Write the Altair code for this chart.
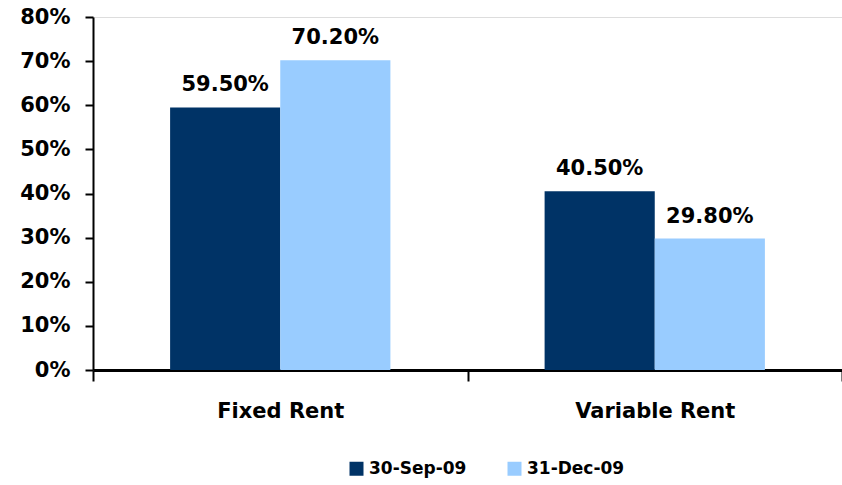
import altair as alt
import pandas as pd

# Rent mix by type, two reporting dates
categories = ["Fixed Rent", "Variable Rent"]
series = ["30-Sep-09", "31-Dec-09"]
sep_09 = [0.595, 0.405]
dec_09 = [0.702, 0.298]
colors = ["#003366", "#99CCFF"]
y_ticks = [0, 0.1, 0.2, 0.3, 0.4, 0.5, 0.6, 0.7, 0.8]

rows = []
for s, vals in zip(series, [sep_09, dec_09]):
    for c, v in zip(categories, vals):
        rows.append({"category": c, "series": s, "value": v})
df = pd.DataFrame(rows)

FONT = "DejaVu Sans"

x_enc = alt.X(
    "category:N",
    sort=categories,
    title=None,
    scale=alt.Scale(paddingInner=0, paddingOuter=0),
    axis=alt.Axis(
        labelAngle=0,
        labelFont=FONT,
        labelFontWeight="bold",
        labelFontSize=21,
        labelColor="black",
        labelPadding=19,
        domainColor="black",
        domainWidth=3,
        tickColor="black",
        tickWidth=2,
        tickSize=11,
        tickBand="extent",
    ),
)
xoff_enc = alt.XOffset(
    "series:N",
    sort=series,
    scale=alt.Scale(paddingInner=0, paddingOuter=0.7),
)
y_enc = alt.Y(
    "value:Q",
    title=None,
    scale=alt.Scale(domain=[0, 0.8], nice=False, zero=True),
    axis=alt.Axis(
        values=y_ticks,
        format=".0%",
        grid=False,
        labelFont=FONT,
        labelFontWeight="bold",
        labelFontSize=21,
        labelColor="black",
        labelPadding=15,
        domainColor="black",
        domainWidth=2,
        tickColor="black",
        tickWidth=2,
        tickSize=8,
    ),
)

bars = alt.Chart(df).mark_bar().encode(
    x=x_enc,
    xOffset=xoff_enc,
    y=y_enc,
    color=alt.Color(
        "series:N",
        sort=series,
        scale=alt.Scale(domain=series, range=colors),
        legend=alt.Legend(
            title=None,
            orient="none",
            legendX=255,
            legendY=443,
            direction="horizontal",
            symbolType="square",
            symbolSize=196,
            symbolStrokeWidth=0,
            labelFont=FONT,
            labelFontWeight="bold",
            labelFontSize=17,
            labelColor="black",
            labelOffset=4,
            columnPadding=39,
            padding=0,
        ),
    ),
)

labels = alt.Chart(df).mark_text(
    font=FONT,
    fontWeight="bold",
    fontSize=21,
    color="black",
    baseline="alphabetic",
    dy=-16,
).encode(
    x=alt.X("category:N", sort=categories),
    xOffset=alt.XOffset("series:N", sort=series),
    y=alt.Y("value:Q"),
    text=alt.Text("value:Q", format=".2%"),
)

chart = (
    alt.layer(bars, labels)
    .properties(
        width=749,
        height=353,
        autosize=alt.AutoSizeParams(type="none"),
        padding={"left": 93, "top": 17, "right": 0, "bottom": 114},
    )
    .configure_view(stroke=None)
    .configure(background="white")
)

chart.save("out.html", embed_options={"renderer": "svg", "actions": False})
